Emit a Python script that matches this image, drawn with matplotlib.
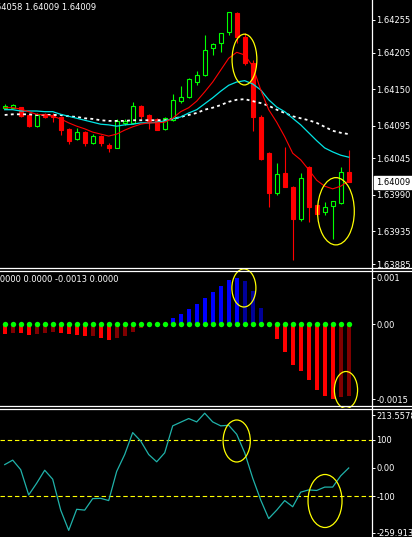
import matplotlib
matplotlib.use("Agg")
import numpy as np
import matplotlib.pyplot as plt
from matplotlib.lines import Line2D
from matplotlib.patches import Ellipse

# ---------- price bars ----------
opens = [1.64122, 1.64122, 1.64123, 1.64111, 1.64094, 1.64112, 1.64111, 1.64108, 1.64090, 1.64075,
         1.64085, 1.64068, 1.64079, 1.64065, 1.64061, 1.64099, 1.64099, 1.64125, 1.64111, 1.64105,
         1.64090, 1.64103, 1.64132, 1.64138, 1.64161, 1.64172, 1.64213, 1.64220, 1.64237, 1.64266,
         1.64229, 1.64190, 1.64108, 1.64053, 1.63993, 1.64023, 1.64002, 1.63953, 1.64032, 1.63974,
         1.63964, 1.63973, 1.63978, 1.64025]
highs = [1.64128, 1.64128, 1.64123, 1.64112, 1.64114, 1.64114, 1.64114, 1.64109, 1.64091, 1.64091,
         1.64087, 1.64082, 1.64081, 1.64068, 1.64105, 1.64105, 1.64131, 1.64126, 1.64112, 1.64106,
         1.64108, 1.64143, 1.64155, 1.64167, 1.64178, 1.64232, 1.64220, 1.64235, 1.64267, 1.64267,
         1.64235, 1.64194, 1.64111, 1.64055, 1.64038, 1.64062, 1.64003, 1.64023, 1.64034, 1.63974,
         1.63979, 1.63981, 1.64032, 1.64058]
lows = [1.64122, 1.64122, 1.64108, 1.64093, 1.64093, 1.64106, 1.64100, 1.64081, 1.64067, 1.64073,
        1.64064, 1.64067, 1.64064, 1.64055, 1.64061, 1.64096, 1.64097, 1.64105, 1.64090, 1.64088,
        1.64088, 1.64102, 1.64129, 1.64137, 1.64156, 1.64170, 1.64202, 1.64206, 1.64232, 1.64220,
        1.64187, 1.64087, 1.64043, 1.63971, 1.63990, 1.64002, 1.63891, 1.63950, 1.63949, 1.63961,
        1.63959, 1.63923, 1.63976, 1.64009]
closes = [1.64125, 1.64126, 1.64109, 1.64094, 1.64111, 1.64108, 1.64108, 1.64088, 1.64072, 1.64085,
          1.64068, 1.64079, 1.64068, 1.64061, 1.64102, 1.64102, 1.64125, 1.64109, 1.64102, 1.64088,
          1.64106, 1.64134, 1.64138, 1.64166, 1.64172, 1.64210, 1.64219, 1.64235, 1.64267, 1.64229,
          1.64190, 1.64108, 1.64044, 1.63993, 1.64021, 1.64002, 1.63953, 1.64015, 1.63971, 1.63961,
          1.63971, 1.63981, 1.64025, 1.64009]

ma_fast = [1.64122, 1.64122, 1.64120, 1.64116, 1.64112, 1.64111, 1.64109, 1.64105, 1.64099, 1.64094,
           1.64090, 1.64085, 1.64082, 1.64079, 1.64082, 1.64088, 1.64093, 1.64097, 1.64099, 1.64099,
           1.64100, 1.64106, 1.64116, 1.64122, 1.64132, 1.64146, 1.64161, 1.64179, 1.64197, 1.64206,
           1.64202, 1.64185, 1.64149, 1.64119, 1.64100, 1.64078, 1.64053, 1.64043, 1.64028, 1.64012,
           1.64003, 1.63999, 1.64003, 1.64011]
ma_mid = [1.64119, 1.64119, 1.64117, 1.64117, 1.64117, 1.64116, 1.64116, 1.64112, 1.64109, 1.64106,
          1.64103, 1.64100, 1.64097, 1.64096, 1.64094, 1.64096, 1.64097, 1.64099, 1.64099, 1.64100,
          1.64102, 1.64105, 1.64108, 1.64114, 1.64119, 1.64128, 1.64137, 1.64147, 1.64156, 1.64161,
          1.64163, 1.64158, 1.64149, 1.64134, 1.64123, 1.64116, 1.64106, 1.64096, 1.64084, 1.64072,
          1.64061, 1.64055, 1.64050, 1.64047]
ma_slow = [1.64111, 1.64112, 1.64112, 1.64112, 1.64111, 1.64111, 1.64111, 1.64111, 1.64109, 1.64108,
           1.64106, 1.64105, 1.64103, 1.64102, 1.64102, 1.64102, 1.64103, 1.64103, 1.64103, 1.64103,
           1.64103, 1.64105, 1.64108, 1.64111, 1.64114, 1.64119, 1.64122, 1.64126, 1.64131, 1.64134,
           1.64135, 1.64132, 1.64129, 1.64125, 1.64119, 1.64114, 1.64109, 1.64106, 1.64103, 1.64099,
           1.64093, 1.64087, 1.64084, 1.64082]

price_ticks = [1.64255, 1.64205, 1.64150, 1.64095, 1.64045, 1.63990, 1.63935, 1.63885]
last_price = 1.64009

# ---------- MACD histogram (x 1e-4) ----------
macd_hist = [-1.85, -1.6, -1.65, -2.0, -1.85, -1.6, -1.4, -1.6, -1.85, -2.0,
             -2.2, -2.15, -2.5, -2.9, -2.5, -2.2, -1.4, -0.8, 0.0, 0.0,
             0.0, 1.2, 1.85, 2.85, 3.7, 4.9, 6.0, 7.1, 8.15, 8.6,
             8.0, 6.1, 3.0, 0.0, -2.8, -5.25, -7.6, -8.7, -10.4, -12.3,
             -13.3, -13.8, -13.6, -13.3]
macd_range = (-0.0015, 0.001)

# ---------- CCI ----------
cci = [12, 28, -6, -96, -54, -8, -40, -150, -222, -147,
       -150, -109, -108, -116, -12, 48, 126, 96, 48, 22,
       54, 150, 163, 176, 164, 195, 164, 150, 152, 120,
       54, -36, -114, -180, -150, -116, -138, -86, -78, -80,
       -68, -68, -28, 0]
cci_range = (-259.913, 213.5578)
cci_levels = [100, -100]

W, H = 412, 537
fig = plt.figure(figsize=(W / 100, H / 100), dpi=100, facecolor="black")
plt.rcParams["font.family"] = ["DejaVu Sans"]
FS = 6

ax1 = fig.add_axes([0, 1 - 267 / H, 372 / W, 267 / H])
ax2 = fig.add_axes([0, 1 - 405 / H, 372 / W, 135 / H])
ax3 = fig.add_axes([0, 1 - 541 / H, 372 / W, 133 / H])

n = len(opens)
x = np.arange(n)
xlim = (-4.7 / 8, (372 - 4.7) / 8)

for ax in (ax1, ax2, ax3):
    ax.set_facecolor("black")
    ax.set_xlim(*xlim)
    for s in ax.spines.values():
        s.set_visible(False)
    ax.set_xticks([])
    ax.yaxis.tick_right()
    ax.tick_params(axis="y", colors="white", labelcolor="white", labelsize=FS,
                   length=2.2, width=0.7, pad=1)

# ---------- main chart ----------
o = np.array(opens); c = np.array(closes)
up = c >= o
col = np.where(up, "#00ff00", "#ff0000")
ax1.vlines(x, lows, highs, colors=col, lw=0.8, zorder=2)
body_h = np.maximum(np.abs(c - o), 0.000012)
ax1.bar(x, body_h, bottom=np.minimum(o, c), width=0.52,
        facecolor=np.where(up, "black", "#ff0000"), edgecolor=col, lw=0.8, zorder=3)

ax1.plot(x, ma_slow, color="white", lw=1.3, ls=(0, (1.6, 1.8)), zorder=4)
ax1.plot(x, ma_mid, color="#00e5e5", lw=0.9, zorder=5)
ax1.plot(x, ma_fast, color="#ff0000", lw=0.8, zorder=6)

ax1.set_ylim(1.638805, 1.642853)
ax1.set_yticks(price_ticks)
ax1.set_yticklabels([f"{p:.5f}" for p in price_ticks])
ax1.annotate(f"{last_price:.5f}", xy=(1, last_price), xycoords=ax1.get_yaxis_transform(),
             xytext=(3.2, 0), textcoords="offset points", ha="left", va="center",
             fontsize=FS, color="black",
             bbox=dict(boxstyle="square,pad=0.25", fc="white", ec="white"), annotation_clip=False)

# OHLC header, its left end runs off the window like in the terminal
fig.text(-12.5 / W, 1 - 7 / H, "1.64058 1.64009 1.64009", color="white",
         fontsize=FS, ha="left", va="center")

# ---------- MACD ----------
hv = np.array(macd_hist) * 1e-4
prev = np.concatenate([[0.0], hv[:-1]])
bar_col = []
for v, p in zip(hv, prev):
    if v < 0:
        bar_col.append("#ff0000" if v < p else "#800000")
    else:
        bar_col.append("#0000ff" if v > p else "#000099")
ax2.bar(x, hv, width=0.55, color=bar_col, zorder=2)
ax2.scatter(x, np.zeros(n), s=15, color="#00ff00", linewidths=0, zorder=3)
ax2.set_ylim(*macd_range)
ax2.set_yticks([0.000852, 0.0, -0.001389])
ax2.set_yticklabels(["0.001", "0.00", "-0.0015"])
fig.text(-8 / W, 1 - 279 / H, "0.0000 0.0000 -0.0013 0.0000", color="white",
         fontsize=FS, ha="left", va="center")

# ---------- CCI ----------
for lv in cci_levels:
    ax3.axhline(lv, color="#ffff00", lw=0.8, ls=(0, (4, 2.5)), zorder=1)
ax3.plot(x, cci, color="#20b2aa", lw=0.9, zorder=2)
ax3.set_ylim(*cci_range)
ax3.set_yticks([188.6, 100, 0, -100, -231.4])
ax3.set_yticklabels(["213.5578", "100", "0.00", "-100", "-259.913"])

# ---------- yellow marks ----------
marks = [(ax1, 29.97, 1.64195, 3.1, 0.00077),
         (ax1, 41.4, 1.63965, 4.6, 0.00102),
         (ax2, 29.9, 0.000667, 3.0, 0.000704),
         (ax2, 42.66, -0.001222, 2.9, 0.000685),
         (ax3, 29.0, 96.1, 3.4, 149.5),
         (ax3, 40.04, -117.5, 4.25, 188.7)]
for ax, cx, cy, w, h in marks:
    ax.add_patch(Ellipse((cx, cy), w, h, fill=False, edgecolor="#ffff00", lw=0.9,
                         clip_on=False, zorder=10))

# ---------- panel borders ----------
for yp in (267.5, 270.5, 405.5, 408.5):
    fig.add_artist(Line2D([0, 1], [1 - yp / H, 1 - yp / H], transform=fig.transFigure,
                          color="white", lw=0.9))
fig.add_artist(Line2D([372 / W, 372 / W], [0, 1], transform=fig.transFigure,
                      color="white", lw=0.9))

fig.savefig("out.png", dpi=100, facecolor="black")
